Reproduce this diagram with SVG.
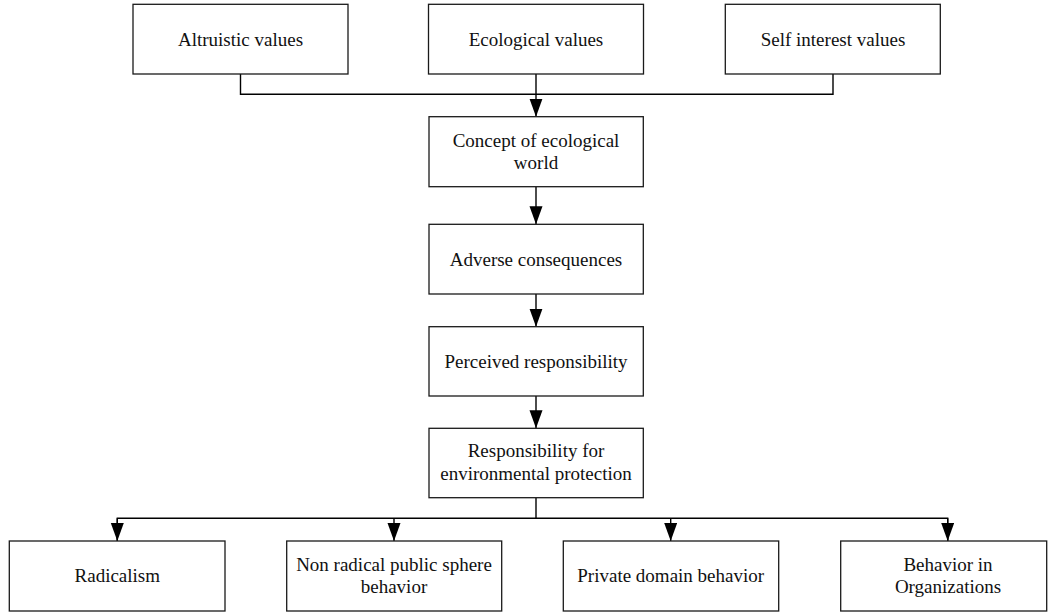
<svg xmlns="http://www.w3.org/2000/svg" width="1048" height="612" viewBox="0 0 1048 612">
<style>
.box{fill:#fff;stroke:#1a1a1a;stroke-width:1.3}
.t{font-family:"Liberation Serif","Times New Roman",serif;font-size:19px;fill:#111;text-anchor:middle}
.c{fill:none;stroke:#000;stroke-width:1.4}
</style>
<defs>
<marker id="ah" markerUnits="userSpaceOnUse" markerWidth="19" markerHeight="14" refX="18" refY="6.5" orient="auto">
<path d="M0,0 L18,6.5 L0,13 z" fill="#000"/>
</marker>
</defs>
<rect width="1048" height="612" fill="#fff"/>
<g id="connectors">
<path class="c" d="M240.5,74 V94.3 H833 V74"/>
<path class="c" d="M536,74 V116.7" marker-end="url(#ah)"/>
<path class="c" d="M536,186.7 V224.3" marker-end="url(#ah)"/>
<path class="c" d="M536,294 V326.7" marker-end="url(#ah)"/>
<path class="c" d="M536,396 V428.3" marker-end="url(#ah)"/>
<path class="c" d="M536,497.7 V518.3"/>
<path class="c" d="M117.3,541 V518.3 H947.7 V541"/>
<path class="c" d="M117.3,518.3 V541" marker-end="url(#ah)"/>
<path class="c" d="M394,518.3 V541" marker-end="url(#ah)"/>
<path class="c" d="M670.7,518.3 V541" marker-end="url(#ah)"/>
<path class="c" d="M947.7,518.3 V541" marker-end="url(#ah)"/>
</g>
<g id="altruistic"><rect class="box" x="133" y="4.3" width="215" height="69.7"/><text class="t" x="240.5" y="45.5">Altruistic values</text></g>
<g id="ecological"><rect class="box" x="428.5" y="4.3" width="215" height="69.7"/><text class="t" x="536" y="45.5">Ecological values</text></g>
<g id="selfinterest"><rect class="box" x="725.3" y="4.3" width="215" height="69.7"/><text class="t" x="833" y="45.5">Self interest values</text></g>
<g id="concept"><rect class="box" x="429" y="116.7" width="214.3" height="70"/><text class="t" x="536" y="146.7">Concept of ecological</text><text class="t" x="536" y="169.3">world</text></g>
<g id="adverse"><rect class="box" x="429" y="224.3" width="214.3" height="69.7"/><text class="t" x="536" y="265.5">Adverse consequences</text></g>
<g id="perceived"><rect class="box" x="429" y="326.7" width="214.3" height="69.3"/><text class="t" x="536" y="367.7">Perceived responsibility</text></g>
<g id="responsibility"><rect class="box" x="429" y="428.3" width="214.3" height="69.4"/><text class="t" x="536" y="456.7">Responsibility for</text><text class="t" x="536" y="480">environmental protection</text></g>
<g id="radicalism"><rect class="box" x="9.3" y="541" width="215.7" height="70"/><text class="t" x="117.3" y="582">Radicalism</text></g>
<g id="nonradical"><rect class="box" x="286.7" y="541" width="215" height="70"/><text class="t" x="394" y="570.5">Non radical public sphere</text><text class="t" x="394" y="593">behavior</text></g>
<g id="private"><rect class="box" x="563.3" y="541" width="215.4" height="70"/><text class="t" x="670.7" y="582">Private domain behavior</text></g>
<g id="organizations"><rect class="box" x="840.7" y="541" width="206" height="70"/><text class="t" x="948" y="570.5">Behavior in</text><text class="t" x="948" y="593">Organizations</text></g>
</svg>
